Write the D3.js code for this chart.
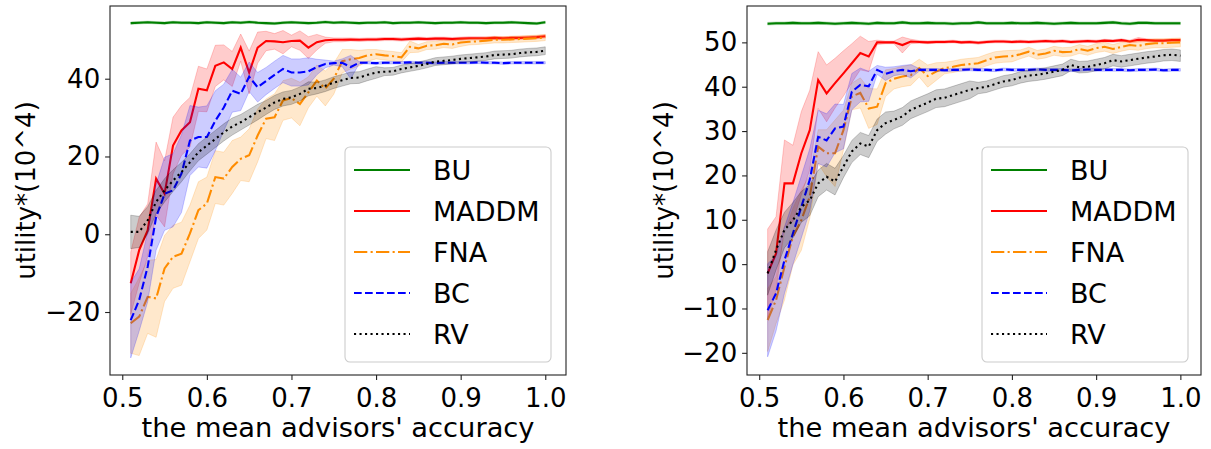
<!DOCTYPE html>
<html>
<head>
<meta charset="utf-8">
<script src="https://cdn.jsdelivr.net/npm/d3@7"></script>
<style>
  body { margin: 0; background: #fff; }
  svg { display: block; font-family: "DejaVu Sans", sans-serif; }
</style>
</head>
<body>
<svg id="chart" width="1211" height="449"></svg>
<script>
// x axis: mean advisors' accuracy, 0.51 .. 1.00
var accuracy = [0.51,0.52,0.53,0.54,0.55,0.56,0.57,0.58,0.59,0.60,
                0.61,0.62,0.63,0.64,0.65,0.66,0.67,0.68,0.69,0.70,
                0.71,0.72,0.73,0.74,0.75,0.76,0.77,0.78,0.79,0.80,
                0.81,0.82,0.83,0.84,0.85,0.86,0.87,0.88,0.89,0.90,
                0.91,0.92,0.93,0.94,0.95,0.96,0.97,0.98,0.99,1.00];

var xTicks = [0.5, 0.6, 0.7, 0.8, 0.9, 1.0];
var leftYTicks = [-20, 0, 20, 40];
var rightYTicks = [-20, -10, 0, 10, 20, 30, 40, 50];
var methods = ["BU", "MADDM", "FNA", "BC", "RV"];

// ---- left panel: means
var leftBU = [54.3,54.4,54.5,54.4,54.3,54.5,54.4,54.4,54.3,54.5,54.4,54.3,54.5,54.4,54.6,54.4,54.3,54.2,54.4,54.5,
              54.4,54.3,54.4,54.6,54.4,54.5,54.4,54.3,54.4,54.4,54.5,54.3,54.4,54.4,54.5,54.4,54.3,54.4,54.4,54.5,
              54.4,54.4,54.3,54.4,54.4,54.5,54.4,54.3,54.2,54.5];
var leftMADDM = [-12.6,-4.1,1.0,14.3,10.4,22.8,26.7,28.8,37.4,37.0,43.3,44.2,42.5,48.0,41.6,48.0,49.7,49.6,49.4,49.7,
                 49.8,48.0,49.4,49.9,50.0,50.0,50.1,50.0,50.1,50.1,50.2,50.2,50.1,50.2,50.3,50.2,50.3,50.3,50.2,50.3,
                 50.4,50.4,50.4,50.5,50.4,50.5,50.5,50.6,50.7,50.9];
var leftFNA = [-22.9,-21.2,-16.1,-16.5,-8.8,-5.8,-5.0,0.2,6.2,7.9,14.7,14.3,17.3,19.4,20.3,25.4,29.7,30.1,34.4,35.0,
               33.5,36.5,39.5,37.5,40.0,44.5,45.0,45.3,46.0,46.3,46.0,45.8,45.5,48.2,47.8,48.5,48.6,49.0,48.8,49.3,
               49.5,49.6,49.8,50.0,50.0,50.1,50.2,50.3,50.4,50.6];
var leftBC = [-22.1,-16.9,-8.4,4.4,10.4,11.3,15.6,24.1,25.0,25.0,29.2,32.6,36.9,36.1,40.5,37.8,39.4,41.0,42.5,41.6,
              41.6,41.9,43.0,43.8,44.0,44.1,43.0,44.1,44.1,44.0,44.1,44.1,44.1,44.2,44.1,44.1,44.0,44.1,44.1,44.1,
              44.1,44.2,44.1,44.1,44.0,44.1,44.1,44.1,44.1,44.1];
var leftRV = [0.6,0.6,3.6,8.3,11.3,13.8,16.0,18.5,21.1,22.8,24.5,26.2,27.7,28.8,30.1,31.4,32.6,33.9,34.8,35.2,
              36.1,37.4,37.6,38.2,39.0,39.6,40.2,40.3,41.0,41.6,41.8,41.9,42.5,42.9,43.3,43.8,44.4,44.6,44.8,45.1,
              45.3,45.5,45.7,46.1,46.2,46.3,46.6,46.8,46.9,47.2];
// ---- left panel: band half widths
var leftBUsd = [0.3,0.3,0.3,0.3,0.3,0.3,0.3,0.3,0.3,0.3,0.3,0.3,0.3,0.3,0.3,0.3,0.3,0.3,0.3,0.3,
                0.3,0.3,0.3,0.3,0.3,0.3,0.3,0.3,0.3,0.3,0.3,0.3,0.3,0.3,0.3,0.3,0.3,0.3,0.3,0.3,
                0.3,0.3,0.3,0.3,0.3,0.3,0.3,0.3,0.3,0.3];
var leftMADDMsd = [8,8.5,6.8,9.4,8.5,7.3,6.4,6.4,5.8,5.5,5.3,4.5,4.5,3.5,5.5,4,2.5,2,3,1.5,
                   2.5,2.8,2,0.8,0.5,0.5,0.4,0.4,0.4,0.4,0.4,0.4,0.4,0.4,0.4,0.4,0.4,0.4,0.4,0.4,
                   0.4,0.4,0.4,0.4,0.4,0.4,0.4,0.4,0.4,0.4];
var leftFNAsd = [7.7,10,9.4,10,8.5,8.1,8.1,7.3,7.3,6.8,6.8,6.8,6.8,5.6,6.8,6.8,5.1,6,5.1,5.1,
                 5.6,4,4,4.5,4,3,2.5,2,1.5,1.2,1.2,1.2,1.2,1.5,1,1,1,1,1,1,
                 0.8,0.8,0.8,0.8,0.8,0.8,0.8,0.8,0.8,0.8];
var leftBCsd = [9.7,8,9,8.5,9.4,9.4,10,9,7.7,8,7.7,6,5.5,4.3,3.8,3.8,3.5,3.5,3.5,3.5,
                3.5,3.5,2,1,0.5,1,3,0.3,0.3,0.3,0.3,0.3,0.3,0.3,0.3,0.3,0.3,0.3,0.3,0.3,
                0.3,0.3,0.3,0.3,0.3,0.3,0.3,0.3,0.3,0.3];
var leftRVsd = [4.3,4,3.5,3,3,2.8,2.5,2.2,2.2,2.2,2.2,2.2,2.2,2,2,2,1.8,1.8,1.8,1.8,
                1.8,1.8,1.5,1.5,1.5,1.5,1.5,1.5,1.5,1.5,1,1,1,1,1,1,1,1,1,1,
                1,1,1,1,1,1,1,1,1,1];

// ---- right panel: means
var rightBU = [54.2,54.3,54.3,54.4,54.3,54.3,54.4,54.3,54.2,54.3,54.4,54.3,54.2,54.4,54.3,54.3,54.5,54.3,54.3,54.4,
               54.3,54.3,54.2,54.3,54.3,54.5,54.3,54.3,54.3,54.4,54.3,54.3,54.4,54.3,54.2,54.3,54.4,54.3,54.3,54.3,
               54.4,54.5,54.3,54.2,54.4,54.4,54.3,54.3,54.3,54.3];
var rightMADDM = [-2.1,2.4,18.2,18.2,25.0,30.2,41.5,38.5,40.8,43.0,45.3,47.6,46.8,50.0,50.0,50.0,49.4,50.2,50.1,50.0,
                  50.1,50.1,50.2,50.0,50.1,49.9,50.1,50.2,50.2,50.1,50.2,50.1,50.2,50.3,50.2,50.3,50.1,50.2,50.3,50.2,
                  50.4,50.3,50.5,50.2,50.6,50.5,50.4,50.4,50.5,50.5];
var rightFNA = [-12.6,-8.1,-0.6,6.2,9.9,15.2,26.5,25.0,25.0,30.2,37.8,38.6,35.1,35.5,40.8,41.8,42.3,42.6,44.2,42.4,
                43.4,44.2,44.5,44.9,45.1,45.3,46.0,46.6,46.8,46.9,47.3,47.9,47.2,47.5,48.1,47.8,47.9,48.5,48.1,48.7,
                49.0,48.5,49.0,49.4,49.2,49.6,49.8,49.8,49.9,50.0];
var rightBC = [-10.4,-6.6,0.9,6.9,12.9,19.0,28.7,27.9,30.6,31.0,38.9,40.4,40.1,43.8,42.9,43.5,43.8,43.5,43.8,43.8,
               43.8,43.7,43.8,43.8,43.9,43.8,43.8,43.7,43.9,43.8,43.8,43.8,43.9,43.8,43.8,43.8,43.7,43.8,43.9,43.8,
               43.8,43.8,43.8,43.7,43.8,43.8,43.9,43.7,43.8,43.8];
var rightRV = [-2.1,3.2,7.7,9.9,12.9,14.4,18.2,19.7,18.6,22.0,25.4,27.2,26.5,30.2,31.8,32.5,33.3,34.8,35.6,36.4,
               37.3,37.5,38.1,38.7,39.3,39.7,40.0,40.6,41.2,41.5,42.1,42.5,42.7,43.0,43.4,43.8,44.9,44.4,44.5,44.9,
               45.3,46.0,45.7,46.0,46.3,46.6,46.8,47.1,47.2,47.0];
// ---- right panel: band half widths
var rightBUsd = leftBUsd;
var rightMADDMsd = [10,8.3,9.8,8.6,9.4,9,6.4,6.4,5.6,5.1,4.4,3.8,3.4,0.5,0.3,0.3,1.8,0.5,0.3,0.3,
                    0.3,0.3,0.3,0.3,0.3,0.3,0.3,0.3,0.3,0.3,0.3,0.3,0.3,0.3,0.3,0.3,0.3,0.3,0.3,0.3,
                    0.3,0.3,0.3,0.3,0.5,0.3,0.3,0.3,0.3,0.3];
var rightFNAsd = [7.1,5.3,7.5,6.4,6.8,4.9,3.8,5.3,7.5,4.5,3,3.4,4.5,4,3,2.3,2.3,2.3,2,2.5,
                  2,1.3,1.3,1.3,1.3,1.3,1.3,1.3,1.3,1.3,1,1,1,1,1,1,1,1,1,1,
                  1,1,1,1,1,1,1,1,1,1];
var rightBCsd = [10.5,8.5,7.5,7,7,7,6,6,5.5,5,4.1,3.8,3.4,1,1.5,1,1,1.5,0.3,0.3,
                 0.3,0.3,0.3,0.3,0.3,0.3,0.3,0.3,0.3,0.3,0.3,0.3,0.3,0.3,0.3,0.3,0.3,0.3,0.3,0.3,
                 0.3,0.3,0.3,0.3,0.3,0.3,0.3,0.3,0.3,0.3];
var rightRVsd = [4.9,4.5,4,4,3.5,3.5,3,3,3,2.5,2.5,2.5,2.5,2.5,2.5,2,2,2,2,2,
                 2,2,2,2,2,1.3,1.3,1.3,1.3,1.3,1.3,1.3,1.3,1.3,1.3,1.3,1.3,1.3,1.3,1.3,
                 1.3,1.3,1.3,1.3,1.3,1.3,1.3,1.3,1.3,1.3];

// styles per method (matplotlib-like, lw 1.5pt at 100dpi)
var styles = {
  BU:    {color: "#008000", dash: null},
  MADDM: {color: "#ff0000", dash: null},
  FNA:   {color: "#ff8c00", dash: "13.3,3.3,2.1,3.3"},
  BC:    {color: "#0000ff", dash: "7.7,3.3"},
  RV:    {color: "#000000", dash: "2.1,3.4"}
};

var panels = [
  {id: "L", left: 110, top: 6, width: 456, height: 369, yDomain: [-36.2, 58.7], yTicks: leftYTicks,
   ylabelX: 35, legendX: 345,
   mean: {BU: leftBU, MADDM: leftMADDM, FNA: leftFNA, BC: leftBC, RV: leftRV},
   sd:   {BU: leftBUsd, MADDM: leftMADDMsd, FNA: leftFNAsd, BC: leftBCsd, RV: leftRVsd}},
  {id: "R", left: 747, top: 6, width: 454, height: 369, yDomain: [-25.0, 58.2], yTicks: rightYTicks,
   ylabelX: 673, legendX: 982,
   mean: {BU: rightBU, MADDM: rightMADDM, FNA: rightFNA, BC: rightBC, RV: rightRV},
   sd:   {BU: rightBUsd, MADDM: rightMADDMsd, FNA: rightFNAsd, BC: rightBCsd, RV: rightRVsd}}
];

var svg = d3.select("#chart");
var fontSize = 26;

panels.forEach(function(p) {
  var x = d3.scaleLinear().domain([0.4855, 1.0245]).range([0, p.width]);
  var y = d3.scaleLinear().domain(p.yDomain).range([p.height, 0]);

  var g = svg.append("g").attr("transform", "translate(" + p.left + "," + p.top + ")");

  g.append("clipPath").attr("id", "clip" + p.id)
    .append("rect").attr("width", p.width).attr("height", p.height);

  var plot = g.append("g").attr("clip-path", "url(#clip" + p.id + ")");

  methods.forEach(function(m) {
    var rows = accuracy.map(function(a, i) {
      return {x: a, v: p.mean[m][i], s: p.sd[m][i]};
    });
    var area = d3.area()
      .x(function(d) { return x(d.x); })
      .y0(function(d) { return y(d.v - d.s); })
      .y1(function(d) { return y(d.v + d.s); });
    var line = d3.line()
      .x(function(d) { return x(d.x); })
      .y(function(d) { return y(d.v); });

    plot.append("path").datum(rows)
      .attr("d", area)
      .attr("fill", styles[m].color)
      .attr("fill-opacity", 0.2)
      .attr("stroke", styles[m].color)
      .attr("stroke-opacity", 0.2)
      .attr("stroke-width", 1);
    plot.append("path").datum(rows)
      .attr("d", line)
      .attr("fill", "none")
      .attr("stroke", styles[m].color)
      .attr("stroke-width", 2.08)
      .attr("stroke-dasharray", styles[m].dash);
  });

  // axes
  var xAxis = g.append("g")
    .attr("transform", "translate(0," + p.height + ")")
    .call(d3.axisBottom(x).tickValues(xTicks).tickFormat(d3.format(".1f"))
      .tickSize(4.9).tickSizeOuter(0).tickPadding(8.5));
  var yAxis = g.append("g")
    .call(d3.axisLeft(y).tickValues(p.yTicks).tickFormat(d3.format("d"))
      .tickSize(4.9).tickSizeOuter(0).tickPadding(4.9));
  [xAxis, yAxis].forEach(function(ax) {
    ax.select(".domain").remove();
    ax.selectAll("line").attr("stroke", "#222").attr("stroke-width", 1.1);
    ax.selectAll("text").attr("font-size", fontSize).attr("fill", "#000")
      .attr("font-family", "DejaVu Sans");
  });

  // frame
  g.append("rect")
    .attr("width", p.width).attr("height", p.height)
    .attr("fill", "none").attr("stroke", "#222").attr("stroke-width", 1.1);

  // axis labels
  svg.append("text")
    .attr("x", p.left + p.width / 2).attr("y", 437)
    .attr("text-anchor", "middle").attr("font-size", 27.3)
    .text("the mean advisors' accuracy");
  svg.append("text")
    .attr("transform", "translate(" + p.ylabelX + "," + (p.top + p.height / 2) + ") rotate(-90)")
    .attr("text-anchor", "middle").attr("font-size", fontSize)
    .text("utility*(10^4)");

  // legend
  var lg = svg.append("g").attr("transform", "translate(" + p.legendX + ",147)");
  lg.append("rect")
    .attr("width", 206).attr("height", 215).attr("rx", 5)
    .attr("fill", "#fff").attr("fill-opacity", 0.8)
    .attr("stroke", "#ccc").attr("stroke-width", 1.1);
  methods.forEach(function(m, i) {
    var cy = 23 + i * 41;
    lg.append("line")
      .attr("x1", 9).attr("x2", 65).attr("y1", cy).attr("y2", cy)
      .attr("stroke", styles[m].color).attr("stroke-width", 2.08)
      .attr("stroke-dasharray", styles[m].dash);
    lg.append("text")
      .attr("x", 88).attr("y", cy).attr("dy", "0.36em")
      .attr("font-size", fontSize + 1)
      .text(m);
  });
});
</script>
</body>
</html>
